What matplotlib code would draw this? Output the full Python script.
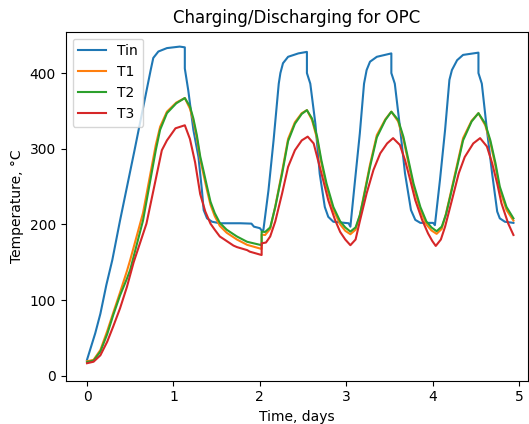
import matplotlib
matplotlib.use("Agg")
import matplotlib.pyplot as plt

# Tin (inlet temperature)
t_in = [0.000, 0.095, 0.155, 0.224, 0.293, 0.382, 0.550, 0.737, 0.767, 0.826, 0.925, 1.073, 1.132,
        1.132, 1.172, 1.231, 1.290, 1.330, 1.350, 1.389, 1.448, 1.537, 1.774, 1.903, 1.932, 2.001,
        2.031, 2.041, 2.100, 2.159, 2.219, 2.238, 2.268, 2.327, 2.446, 2.545,
        2.545, 2.584, 2.643, 2.693, 2.752, 2.792, 2.851, 3.028, 3.048, 3.098, 3.157, 3.206, 3.236,
        3.275, 3.354, 3.522, 3.522, 3.562, 3.621, 3.680, 3.749, 3.799, 3.858, 4.006, 4.026, 4.085,
        4.144, 4.194, 4.223, 4.283, 4.352, 4.530, 4.530, 4.569, 4.628, 4.688, 4.747, 4.777, 4.836, 4.935]
Tin = [21, 56, 82, 120, 153, 205, 298, 404, 420, 428.5, 433, 435, 434,
       406, 377, 325, 289, 245, 219, 208, 203.5, 201.5, 201.5, 201, 197, 195,
       190.5, 192.5, 245, 311, 386, 400, 413, 421.5, 426, 428,
       400, 386, 333, 267, 223, 210, 203.5, 201.5, 197, 254, 320, 386, 404,
       415, 421.5, 426, 400, 386, 329, 267.5, 219, 206, 202, 202, 199, 259,
       325, 391, 404, 417, 424, 427, 400, 386, 325, 267.5, 217, 208, 203.5, 202]

# T1 / T2 share the same time points
t_12 = [0.000, 0.076, 0.155, 0.234, 0.303, 0.382, 0.461, 0.500, 0.648, 0.796, 0.846, 0.925, 1.033, 1.132,
        1.191, 1.231, 1.271, 1.310, 1.350, 1.389, 1.429, 1.478, 1.537, 1.616, 1.735, 1.853, 2.021,
        2.021, 2.061, 2.120, 2.179, 2.258, 2.327, 2.406, 2.485, 2.545, 2.604, 2.663, 2.712, 2.772,
        2.851, 2.930, 2.989, 3.048, 3.108, 3.157, 3.196, 3.275, 3.354, 3.453, 3.522, 3.601, 3.661, 3.720,
        3.779, 3.858, 3.927, 3.986, 4.046, 4.105, 4.154, 4.204, 4.283, 4.352, 4.451, 4.530, 4.609, 4.668,
        4.727, 4.777, 4.855, 4.935]
T1 = [19, 21, 34, 59, 83, 110, 138, 153, 215, 305, 329, 349, 361, 367,
      353, 337, 314, 286, 265, 245, 226, 211, 198, 189, 180, 173, 167.5,
      186.5, 186, 194, 224, 270, 313, 335, 347, 351, 338, 313, 281, 250,
      219, 200, 191.5, 187, 193, 212, 234, 279, 318, 339, 349, 336, 313, 281,
      250, 219, 200, 192, 187.5, 194, 214, 239, 279, 314, 337, 347, 331, 308,
      277, 246, 219, 205]
T2 = [18, 20, 32, 55, 80, 106, 128, 140, 205, 298, 325, 347, 360, 367,
      356, 340, 318, 290, 270, 250, 230, 215, 202, 193, 184, 177, 172.5,
      190.5, 190, 196, 223, 267, 310, 333, 346, 351, 340, 316, 285, 254,
      223, 204, 196, 190.5, 196, 212, 232, 276, 315, 338, 349, 338, 316, 285,
      254, 223, 204, 196, 191, 197, 213, 237, 276, 311, 336, 347, 333, 311,
      281, 250, 223, 208]

# T3
t_3 = [0.000, 0.076, 0.155, 0.234, 0.303, 0.382, 0.461, 0.540, 0.688, 0.866, 0.925, 1.024, 1.132,
       1.191, 1.251, 1.310, 1.369, 1.429, 1.478, 1.537, 1.577, 1.695, 1.735, 1.853, 1.883, 2.021,
       2.021, 2.071, 2.120, 2.179, 2.258, 2.327, 2.406, 2.485, 2.554, 2.623, 2.673, 2.732, 2.792,
       2.870, 2.930, 2.989, 3.048, 3.108, 3.157, 3.236, 3.315, 3.394, 3.473, 3.542, 3.621, 3.680,
       3.740, 3.799, 3.878, 3.947, 3.996, 4.036, 4.095, 4.144, 4.223, 4.302, 4.371, 4.470, 4.549,
       4.628, 4.688, 4.747, 4.796, 4.875, 4.935]
T3 = [16.5, 18.5, 27, 45, 65, 89, 117, 150, 201, 298, 311, 327, 331,
      313, 282, 240, 217, 201, 193, 184, 181, 172, 170, 166, 164, 159.5,
      175, 176, 184, 204, 241, 276, 298, 311, 316, 307, 285, 259, 232,
      206, 190, 180, 172.5, 180, 204, 241, 272, 294, 307, 314, 305, 285,
      259, 232, 206, 188, 178, 171.5, 180, 197, 232, 267.5, 289, 307, 314,
      303, 281, 254, 228, 201, 186]


def main():
    fig = plt.figure(figsize=(5.29, 4.24), dpi=100)
    ax = fig.add_axes([0.1242, 0.1021, 0.874, 0.823])

    ax.plot(t_in, Tin, label="Tin")
    ax.plot(t_12, T1, label="T1")
    ax.plot(t_12, T2, label="T2")
    ax.plot(t_3, T3, label="T3")

    ax.set_xlim(-0.2465, 5.104)
    ax.set_ylim(-6.6, 454.6)
    ax.set_title("Charging/Discharging for OPC")
    ax.set_xlabel("Time, days")
    ax.set_ylabel("Temperature, °C")
    ax.legend(loc="upper left")

    fig.savefig("out.png", dpi=100)


if __name__ == "__main__":
    main()
